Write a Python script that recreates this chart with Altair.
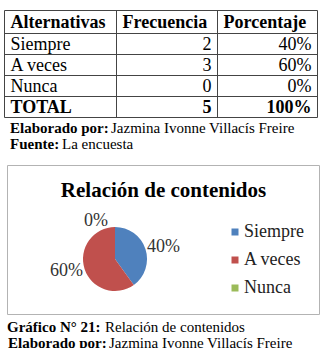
import altair as alt
import pandas as pd

# ---------------- data ----------------
headers = ["Alternativas", "Frecuencia", "Porcentaje"]
categories = ["Siempre", "A veces", "Nunca"]
frecuencia = [2, 3, 0]
porcentaje = [40, 60, 0]
total_label = "TOTAL"
total_frecuencia = 5
total_porcentaje = 100
colors = ["#4F81BD", "#C0504D", "#9BBB59"]

chart_title = "Relación de contenidos"
cap_elab_bold = "Elaborado por:"
cap_elab_text = "Jazmina Ivonne Villacís Freire"
cap_fuente_bold = "Fuente:"
cap_fuente_text = "La encuesta"
cap_graf_bold = "Gráfico N° 21:"
cap_graf_text = "Relación de contenidos"

FONT = "Liberation Serif"

# ---------------- table cells ----------------
cells = []
for j, h in enumerate(headers):
    cells.append({"text": h, "col": j, "r": 0, "align": "left", "bold": True})
for i, (c, f, p) in enumerate(zip(categories, frecuencia, porcentaje)):
    cells.append({"text": c, "col": 0, "r": i + 1, "align": "left", "bold": False})
    cells.append({"text": str(f), "col": 2, "r": i + 1, "align": "right", "bold": False})
    cells.append({"text": f"{p}%", "col": 3, "r": i + 1, "align": "right", "bold": False})
nrow = len(categories) + 1
cells.append({"text": total_label, "col": 0, "r": nrow, "align": "left", "bold": True})
cells.append({"text": str(total_frecuencia), "col": 2, "r": nrow, "align": "right", "bold": True})
cells.append({"text": f"{total_porcentaje}%", "col": 3, "r": nrow, "align": "right", "bold": True})
cells_df = pd.DataFrame(cells)

ncols = len(headers)
nrows = nrow + 1
hlines = pd.DataFrame({"b": list(range(nrows + 1)), "x0": 0, "x1": ncols})
vlines = pd.DataFrame({"c": list(range(ncols + 1)), "y0": 0, "y1": nrows})

xscale = alt.Scale(domain=[0, 1, 2, 3], range=[4.5, 116.5, 217.5, 317.5], nice=False, zero=False)
yscale = alt.Scale(domain=[0, 1, 5], range=[10.5, 33.5, 117.5], nice=False, zero=False)

def table_text(align, bold, dx):
    props = dict(align=align, baseline="middle", dx=dx, dy=1, font=FONT, fontSize=18, color="#000000")
    if bold:
        props["fontWeight"] = "bold"
    return (
        alt.Chart(cells_df)
        .transform_filter(f"datum.align == '{align}' && datum.bold == {str(bold).lower()}")
        .transform_calculate(yc="datum.r + 0.5")
        .mark_text(**props)
        .encode(
            x=alt.X("col:Q", scale=xscale, axis=None),
            y=alt.Y("yc:Q", scale=yscale, axis=None),
            text="text:N",
        )
    )

hrule = alt.Chart(hlines).mark_rule(color="#444444", strokeWidth=1).encode(
    y=alt.Y("b:Q", scale=yscale, axis=None),
    x=alt.X("x0:Q", scale=xscale, axis=None),
    x2="x1:Q",
)
vrule = alt.Chart(vlines).mark_rule(color="#444444", strokeWidth=1).encode(
    x=alt.X("c:Q", scale=xscale, axis=None),
    y=alt.Y("y0:Q", scale=yscale, axis=None),
    y2="y1:Q",
)

# ---------------- pie ----------------
pie_df = pd.DataFrame({
    "cat": categories,
    "value": frecuencia,
    "label": [f"{p}%" for p in porcentaje],
    "idx": list(range(len(categories))),
})

CX, CY, R = 115, 259, 32

box = alt.Chart(pd.DataFrame({"k": [0]})).mark_rect(
    fill="white", stroke="#b3b3b3", strokeWidth=1
).encode(x=alt.value(7.5), x2=alt.value(319.5), y=alt.value(165.5), y2=alt.value(314.5))

arc = alt.Chart(pie_df).mark_arc(outerRadius=R).encode(
    theta=alt.Theta("value:Q", stack=True),
    color=alt.Color(
        "cat:N",
        scale=alt.Scale(domain=categories, range=colors),
        legend=alt.Legend(
            orient="none", legendX=226, legendY=223, title=None,
            symbolType="square", symbolSize=49, symbolStrokeWidth=0,
            labelFont=FONT, labelFontSize=18, labelColor="#222222",
            labelOffset=0, rowPadding=10, padding=0,
        ),
    ),
    order=alt.Order("idx:Q"),
    x=alt.value(CX),
    y=alt.value(CY),
)

pie_labels = alt.Chart(pie_df).transform_filter("datum.value > 0").mark_text(
    radius=50, thetaOffset=0.07, font=FONT, fontSize=18, color="#333333"
).encode(
    theta=alt.Theta("value:Q", stack=True),
    detail="cat:N",
    order=alt.Order("idx:Q"),
    text="label:N",
    x=alt.value(CX),
    y=alt.value(CY),
)

zero_labels = alt.Chart(pie_df).transform_filter("datum.value == 0").mark_text(
    radius=47, font=FONT, fontSize=18, color="#333333", dx=-19, dy=9
).encode(
    theta=alt.Theta("value:Q", stack=True),
    detail="cat:N",
    text="label:N",
    x=alt.value(CX),
    y=alt.value(CY),
)

one = pd.DataFrame({"k": [0]})

def static_text(txt, x, y, size, bold=False, align="left"):
    props = dict(text=txt, align=align, baseline="alphabetic", font=FONT, fontSize=size, color="#000000")
    if bold:
        props["fontWeight"] = "bold"
    return alt.Chart(one).mark_text(**props).encode(x=alt.value(x), y=alt.value(y))

title = static_text(chart_title, 163.5, 197, 21, bold=True, align="center")

captions = [
    static_text(cap_elab_bold, 10, 133, 15, bold=True),
    static_text(cap_elab_text, 111, 133, 15),
    static_text(cap_fuente_bold, 10, 149, 15, bold=True),
    static_text(cap_fuente_text, 62, 149, 15),
    static_text(cap_graf_bold, 7, 332, 15, bold=True),
    static_text(cap_graf_text, 105, 332, 15),
    static_text(cap_elab_bold, 8, 348, 15, bold=True),
    static_text(cap_elab_text, 109, 348, 15),
]

chart = alt.layer(
    box, arc, pie_labels, zero_labels, title,
    hrule, vrule,
    table_text("left", False, 6), table_text("left", True, 6),
    table_text("right", False, -6), table_text("right", True, -6),
    *captions,
).properties(
    width=321, height=348, padding=0, autosize=alt.AutoSizeParams(type="none"),
    background="white",
).configure(font=FONT).configure_view(stroke=None)

chart.save("out.html", embed_options={"renderer": "svg", "actions": False})
